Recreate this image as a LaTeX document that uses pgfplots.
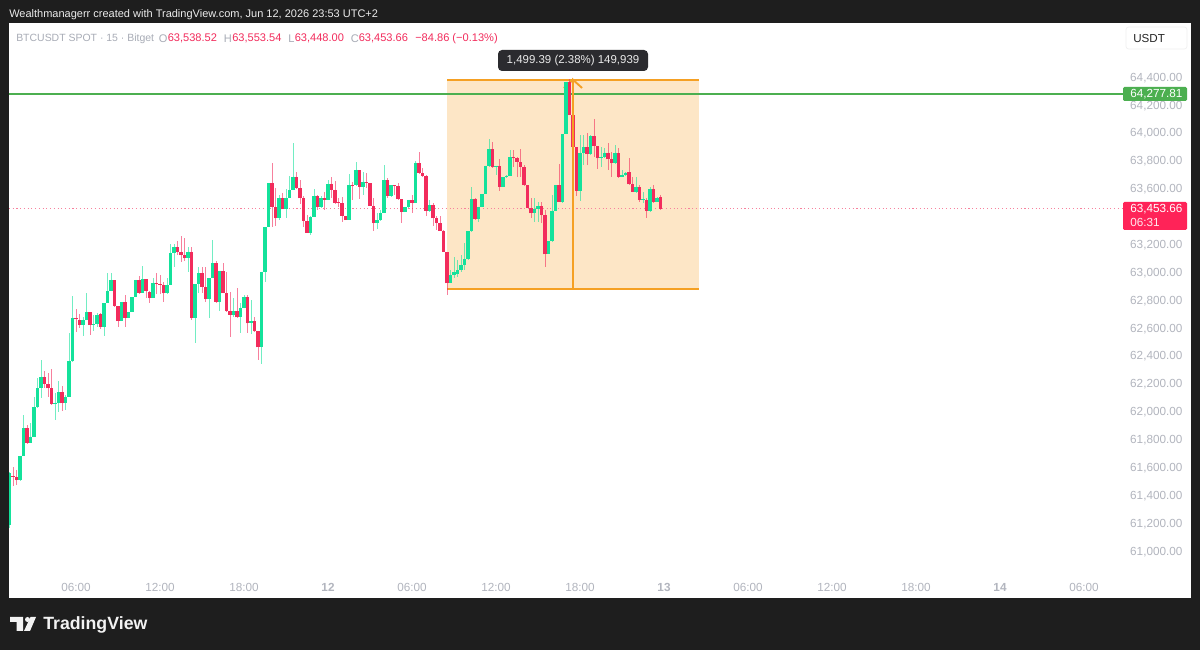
\documentclass[border=0pt]{standalone}
\usepackage{fontspec}
\setmainfont{Liberation Sans}
\usepackage{pgfplots}
\usepackage{pgfplotstable}
\pgfplotsset{compat=1.18}
\definecolor{frame}{HTML}{1E1E1E}
\definecolor{up}{HTML}{14E29B}
\definecolor{down}{HTML}{F22C5C}
\definecolor{tickc}{HTML}{B2B5BE}
\definecolor{hdr}{HTML}{A8ACB6}
\definecolor{boxfill}{HTML}{FDE6C6}
\definecolor{boxline}{HTML}{F5A023}
\definecolor{lvl}{HTML}{4CAF50}
\definecolor{lastp}{HTML}{FF2358}
\definecolor{tip}{HTML}{2B2B2F}
\pgfplotstableread{
i O H L C
0 61187 61569 61163 61557
1 61540 61600 61466 61533
2 61533 61581 61474 61509
3 61509 61684 61505 61684
4 61684 61976 61684 61880
5 61880 61904 61768 61777
6 61777 61921 61772 61820
7 61820 62107 61820 62031
8 62031 62239 62024 62167
9 62167 62370 62095 62251
10 62251 62294 62167 62198
11 62198 62279 62107 62167
12 62167 62303 62047 62055
13 62055 62131 61940 62064
14 62064 62220 62000 62138
15 62138 62184 62004 62059
16 62059 62119 62012 62107
17 62107 62561 62107 62363
18 62363 62832 62358 62674
19 62674 62734 62573 62662
20 62657 62700 62597 62621
21 62621 62681 62542 62657
22 62657 62848 62657 62717
23 62717 62717 62550 62621
24 62621 62693 62578 62626
25 62626 62710 62609 62693
26 62698 62710 62590 62609
27 62609 62777 62542 62777
28 62777 62997 62777 62868
29 62868 62997 62868 62944
30 62944 62944 62753 62758
31 62758 62758 62605 62648
32 62648 62784 62648 62784
33 62784 62836 62605 62669
34 62669 62712 62669 62712
35 62712 62820 62712 62820
36 62820 62944 62820 62944
37 62944 62973 62848 62853
38 62853 63044 62853 62949
39 62949 62949 62813 62865
40 62860 62865 62781 62813
41 62813 62956 62813 62925
42 62925 62992 62844 62915
43 62915 62980 62844 62908
44 62908 62932 62789 62848
45 62848 62956 62844 62908
46 62908 63202 62908 63135
47 63135 63202 63035 63178
48 63178 63224 63123 63147
49 63147 63260 63076 63123
50 63123 63243 63080 63099
51 63099 63183 63004 63147
52 63147 63178 62657 62669
53 62669 62913 62490 62913
54 62913 63035 62848 62992
55 62992 63035 62848 62896
56 62896 63040 62784 62808
57 62808 62956 62669 62956
58 62956 63231 62956 63064
59 63064 63083 62784 62789
60 62789 63011 62724 63011
61 63011 63064 62848 62848
62 62848 63004 62717 62724
63 62724 62856 62533 62693
64 62693 62813 62681 62722
65 62722 62884 62669 62676
66 62676 62777 62566 62746
67 62746 62836 62741 62824
68 62824 62836 62566 62633
69 62633 62801 62554 62652
70 62652 62681 62573 62576
71 62576 62576 62370 62461
72 62461 63004 62342 63004
73 63004 63322 62932 63322
74 63322 63642 63322 63637
75 63637 63786 63327 63465
76 63465 63602 63331 63386
77 63386 63554 63374 63535
78 63535 63570 63451 63451
79 63451 63594 63386 63530
80 63530 63690 63530 63590
81 63590 63929 63590 63685
82 63685 63721 63594 63602
83 63602 63661 63489 63530
84 63530 63547 63327 63370
85 63370 63410 63284 63284
86 63284 63403 63267 63394
87 63394 63594 63394 63549
88 63549 63554 63446 63470
89 63470 63549 63458 63530
90 63530 63578 63446 63518
91 63518 63661 63518 63630
92 63630 63685 63530 63590
93 63590 63657 63494 63499
94 63501 63530 63465 63494
95 63499 63537 63362 63403
96 63403 63403 63374 63374
97 63374 63702 63374 63625
98 63625 63649 63518 63618
99 63625 63793 63618 63733
100 63733 63733 63523 63614
101 63614 63721 63554 63649
102 63647 63714 63602 63640
103 63640 63640 63475 63475
104 63475 63530 63296 63351
105 63351 63422 63307 63374
106 63374 63446 63370 63422
107 63422 63769 63422 63661
108 63661 63673 63530 63547
109 63547 63625 63542 63625
110 63623 63625 63554 63616
111 63618 63637 63518 63523
112 63523 63523 63350 63434
113 63434 63465 63434 63465
114 63465 63518 63458 63518
115 63518 63554 63422 63499
116 63499 63800 63499 63786
117 63786 63860 63709 63714
118 63714 63745 63685 63692
119 63692 63697 63406 63439
120 63439 63518 63434 63482
121 63482 63494 63331 63386
122 63386 63403 63303 63351
123 63351 63403 63298 63298
124 63298 63303 63147 63147
125 63147 63147 62836 62920
126 62920 63015 62920 62980
127 62980 63111 62956 63003
128 62987 63087 62968 63015
129 63015 63123 63003 63051
130 63051 63207 63015 63092
131 63092 63295 63087 63295
132 63295 63613 63290 63522
133 63522 63529 63374 63381
134 63381 63470 63362 63470
135 63470 63561 63465 63561
136 63561 63764 63561 63764
137 63764 63955 63757 63881
138 63881 63936 63752 63757
139 63757 63764 63697 63764
140 63764 63809 63584 63613
141 63613 63680 63613 63680
142 63680 63697 63673 63692
143 63692 63876 63692 63824
144 63824 63876 63757 63816
145 63816 63824 63685 63792
146 63792 63881 63685 63757
147 63757 63769 63620 63625
148 63625 63625 63463 63463
149 63463 63529 63386 63422
150 63422 63529 63362 63451
151 63451 63506 63362 63474
152 63474 63506 63350 63410
153 63410 63446 63035 63128
154 63128 63223 63128 63223
155 63223 63553 63218 63441
156 63441 63625 63441 63625
157 63625 63776 63506 63506
158 63506 63991 63498 63991
159 63991 64366 63991 64366
160 64366 64383 64127 64127
161 64127 64127 63816 63900
162 63900 63900 63546 63584
163 63584 63984 63513 63852
164 63852 63984 63769 63895
165 63895 63996 63769 63847
166 63847 63984 63840 63977
167 63977 64099 63824 63905
168 63905 63905 63737 63816
169 63816 63900 63757 63824
170 63824 63888 63816 63857
171 63857 63929 63733 63809
172 63809 63864 63685 63781
173 63781 63912 63776 63857
174 63857 63888 63680 63685
175 63685 63733 63680 63697
176 63697 63721 63690 63714
177 63721 63816 63625 63630
178 63630 63685 63577 63577
179 63577 63685 63565 63613
180 63613 63625 63506 63517
181 63517 63577 63494 63522
182 63517 63529 63386 63439
183 63439 63613 63434 63594
184 63594 63625 63498 63506
185 63506 63541 63501 63529
186 63538.52 63553.54 63448.00 63453.66
}\candles
\begin{document}
\begin{tikzpicture}
\path[use as bounding box] (0,0) rectangle (900pt,487.5pt);
\begin{scope}[x=0.75pt,y=-0.75pt,shift={(0pt,487.5pt)}]
\fill[frame] (0,0) rectangle (1200,650);
\fill[white] (9,23) rectangle (1191,598);
\end{scope}
\begin{axis}[
  at={(6.75pt,60pt)}, anchor=south west,
  scale only axis, width=835.5pt, height=410.25pt,
  xmin=-0.143, xmax=318.14, ymin=60863.7, ymax=64787.3,
  axis line style={draw=none}, major tick length=0pt,
  scaled y ticks=false, clip=true,
  ytick={61000,61200,61400,61600,61800,62000,62200,62400,62600,62800,63000,63200,63600,63800,64000,64200,64400},
  yticklabel pos=right,
  yticklabel style={anchor=west, inner sep=0pt, xshift=5.2pt, yshift=-0.6pt, font=\fontsize{8.8}{10}\selectfont, text=tickc,
    /pgf/number format/.cd, fixed, fixed zerofill, precision=2, 1000 sep={,}, assume math mode=true},
  xtick={19,43,67,91,115,139,163,187,211,235,259,283,307},
  xticklabels={06:00,12:00,18:00,\textbf{12},06:00,12:00,18:00,\textbf{13},06:00,12:00,18:00,\textbf{14},06:00},
  xticklabel style={anchor=base, inner sep=0pt, yshift=-15.9pt, font=\fontsize{8.8}{10}\selectfont, text=tickc},
]
% long-position measure box
\addplot[fill=boxfill, draw=none, forget plot] coordinates {(125,62880) (197,62880) (197,64380) (125,64380)} --cycle;
\addplot[boxline, line width=1.4pt, forget plot] coordinates {(125,64380) (197,64380)};
\addplot[boxline, line width=1.4pt, forget plot] coordinates {(125,62880) (197,62880)};
\addplot[boxline, line width=1.4pt, forget plot] coordinates {(158.4,64321) (161,64380)};
% price lines
\addplot[lvl, line width=1pt, forget plot] coordinates {(-0.143,64277.81) (318.14,64277.81)};
\addplot[down!60!white, line width=0.7pt, dash pattern=on 0.8pt off 2pt, forget plot] coordinates {(-0.143,63453.66) (318.14,63453.66)};
% wicks and bodies
\addplot[draw=none, mark=none, forget plot, error bars/.cd, y dir=both, y explicit, error mark=none,
  error bar style={draw=up, solid, line width=0.75pt, opacity=0.6}]
  table[x expr={\thisrow{C}>=\thisrow{O} ? \thisrow{i} : nan}, y=C,
        y error plus expr=\thisrow{H}-\thisrow{C}, y error minus expr=\thisrow{C}-\thisrow{L}] {\candles};
\addplot[draw=none, mark=none, forget plot, error bars/.cd, y dir=both, y explicit, error mark=none,
  error bar style={draw=down, solid, line width=0.75pt, opacity=0.6}]
  table[x expr={\thisrow{C}<\thisrow{O} ? \thisrow{i} : nan}, y=C,
        y error plus expr=\thisrow{H}-\thisrow{C}, y error minus expr=\thisrow{C}-\thisrow{L}] {\candles};
\addplot[draw=none, mark=none, forget plot, error bars/.cd, y dir=minus, y explicit, error mark=none,
  error bar style={draw=up, solid, line width=2.3pt}]
  table[x expr={\thisrow{C}>=\thisrow{O} ? \thisrow{i} : nan}, y=C,
        y error minus expr=\thisrow{C}-\thisrow{O}] {\candles};
\addplot[draw=none, mark=none, forget plot, error bars/.cd, y dir=plus, y explicit, error mark=none,
  error bar style={draw=down, solid, line width=2.3pt}]
  table[x expr={\thisrow{C}<\thisrow{O} ? \thisrow{i} : nan}, y=C,
        y error plus expr=\thisrow{O}-\thisrow{C}] {\candles};
% arrow over the candles
\addplot[boxline, line width=1.4pt, forget plot] coordinates {(161,62880) (161,64380) (163.6,64321)};
\end{axis}
\begin{scope}[x=0.75pt,y=-0.75pt,shift={(0pt,487.5pt)}]
% header
\node[anchor=west, inner sep=0pt, text=white!92!black, font=\fontsize{8.25}{10}\selectfont] at (9,14.5)
  {Wealthmanagerr created with TradingView.com, Jun 12, 2026 23:53 UTC+2};
\node[anchor=west, inner sep=0pt, text=hdr, font=\fontsize{7.85}{10}\selectfont] at (16,38.5) {BTCUSDT SPOT · 15 · Bitget};
\begin{scope}[every node/.style={anchor=west, inner sep=0pt, font=\fontsize{8.3}{10}\selectfont}]
\node[text=hdr] at (158.5,38.5) {O}; \node[text=down] at (167.5,38.5) {63,538.52};
\node[text=hdr] at (223.5,38.5) {H}; \node[text=down] at (232,38.5) {63,553.54};
\node[text=hdr] at (288,38.5) {L}; \node[text=down] at (294.5,38.5) {63,448.00};
\node[text=hdr] at (350.5,38.5) {C}; \node[text=down] at (358.5,38.5) {63,453.66};
\node[text=down] at (415,38.5) {−84.86 (−0.13\%)};
\end{scope}
% unit box
\draw[black!6, line width=0.5pt, fill=white, rounded corners=2pt] (1126,27) rectangle (1187,49);
\node[anchor=west, inner sep=0pt, text=black!85, font=\fontsize{8.7}{10}\selectfont] at (1133,38.5) {USDT};
% labels on the price scale
\fill[lvl, rounded corners=1pt] (1123,87) rectangle (1187,101);
\node[anchor=west, inner sep=0pt, text=white, font=\fontsize{8.8}{10}\selectfont] at (1130,94) {64,277.81};
\fill[lastp, rounded corners=1pt] (1123,202) rectangle (1187,230);
\node[anchor=west, inner sep=0pt, text=white, font=\fontsize{8.8}{9}\selectfont] at (1130,209.5) {63,453.66};
\node[anchor=west, inner sep=0pt, text=white!90!lastp, font=\fontsize{8.8}{9}\selectfont] at (1130,222.5) {06:31};
% tooltip
\fill[tip, rounded corners=3pt] (498,50) rectangle (648,71);
\node[inner sep=0pt, text=white!92!black, font=\fontsize{8.6}{10}\selectfont] at (573,60.5) {1,499.39 (2.38\%) 149,939};
% logo
\fill[white!95!black] (10,617) -- (23,617) -- (23,631) -- (16.5,631) -- (16.5,622) -- (10,622) -- cycle;
\fill[white!95!black] (27.5,619.5) circle (2.5);
\fill[white!95!black] (30.5,617) -- (36,617) -- (30,631) -- (24,631) -- cycle;
\node[anchor=west, inner sep=0pt, text=white!95!black, font=\fontsize{13.3}{16}\selectfont] at (43,624.5) {\textbf{TradingView}};
\end{scope}
\end{tikzpicture}
\end{document}
